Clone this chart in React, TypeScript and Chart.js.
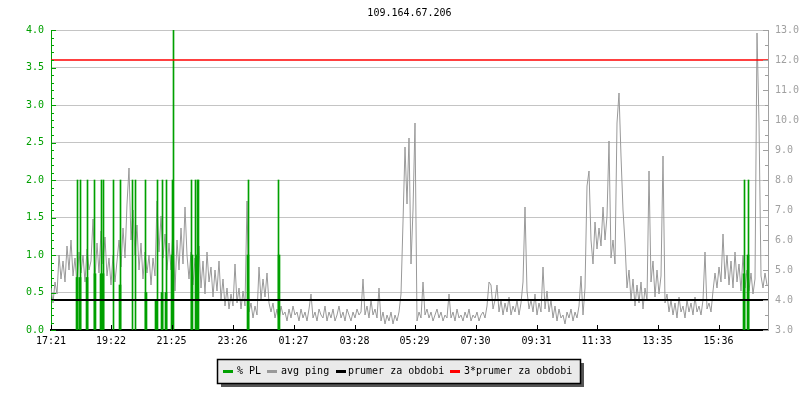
import React, { useEffect, useRef } from 'react';
import { Chart, registerables } from 'chart.js';

Chart.register(...registerables);

const TITLE = '109.164.67.206';
const STEP_MIN = 4;
const X_MAX = 1434;

const tickMinutes = [0, 120, 241, 363, 485, 607, 727, 849, 971, 1091, 1213, 1335];
const tickLabels = ['17:21', '19:22', '21:25', '23:26', '01:27', '03:28', '05:29', '07:30', '09:31', '11:33', '13:35', '15:36'];

// avg ping [ms], one sample every 4 minutes
const pingValues = [
  4.4, 3.9, 4.6, 4.2, 5.5, 4.7, 5.3, 4.6, 5.8, 5.0,
  6.0, 4.8, 5.4, 4.5, 5.6, 4.9, 5.5, 4.6, 5.7, 5.0,
  5.3, 6.7, 4.7, 5.9, 4.9, 6.3, 5.2, 6.1, 4.8, 5.4,
  4.5, 5.5, 4.6, 5.3, 6.0, 5.1, 6.4, 5.4, 7.2, 8.4,
  6.0, 7.0, 5.5, 6.5, 5.0, 5.9, 4.7, 5.6, 4.9, 5.5,
  4.5, 5.4, 4.8, 7.3, 5.6, 6.8, 5.4, 6.2, 5.0, 5.9,
  5.0, 6.4, 4.3, 6.0, 5.0, 6.4, 5.2, 7.1, 5.5, 4.7,
  5.6, 4.5, 5.4, 4.8, 5.8, 4.4, 5.3, 4.2, 5.6, 4.6,
  5.1, 4.1, 5.0, 4.3, 5.3, 4.0, 4.7, 3.8, 4.4, 3.7,
  4.2, 3.8, 5.2, 3.9, 4.4, 3.7, 4.3, 3.8, 7.3, 3.6,
  3.9, 3.4, 3.8, 3.5, 5.1, 4.0, 4.7, 4.1, 4.9, 3.9,
  3.6, 3.9, 3.4, 3.7, 3.3, 3.8, 3.5, 3.6, 3.3, 3.7,
  3.4, 3.8, 3.5, 3.6, 3.3, 3.7, 3.4, 3.6, 3.3, 3.7,
  4.2, 3.4, 3.6, 3.3, 3.7, 3.5, 3.4, 3.8, 3.3, 3.6,
  3.4, 3.7, 3.3, 3.5, 3.8, 3.4, 3.6, 3.3, 3.7, 3.5,
  3.3, 3.6, 3.4, 3.7, 3.5, 3.6, 4.7, 3.5, 3.8, 3.4,
  4.0, 3.5, 3.7, 3.4, 4.4, 3.3, 3.6, 3.2, 3.5, 3.3,
  3.6, 3.2, 3.5, 3.3, 3.6, 4.2, 6.6, 9.1, 7.2, 9.4,
  5.2, 7.0, 9.9, 3.3, 3.6, 3.4, 4.6, 3.5, 3.7, 3.4,
  3.6, 3.3, 3.5, 3.7, 3.4, 3.6, 3.3, 3.5, 3.4, 4.2,
  3.4, 3.6, 3.3, 3.7, 3.4, 3.5, 3.3, 3.6, 3.4, 3.7,
  3.3, 3.5, 3.4, 3.6, 3.3, 3.5, 3.6, 3.4, 3.8, 4.6,
  4.5, 3.7, 4.0, 4.5, 3.6, 4.0, 3.5, 3.9, 3.6, 4.1,
  3.5, 3.8, 3.6, 4.0, 3.5, 3.9, 4.6, 7.1, 4.3, 3.7,
  4.0, 3.6, 4.2, 3.5, 3.9, 3.6, 5.1, 3.7, 4.3, 3.6,
  4.0, 3.4, 3.8, 3.3, 3.7, 3.4, 3.5, 3.2, 3.6, 3.4,
  3.7, 3.3, 3.6, 3.4, 3.8, 4.8, 3.5, 4.4, 7.8, 8.3,
  6.0, 5.2, 6.6, 5.7, 6.4, 5.8, 7.1, 6.0, 6.8, 9.3,
  5.4, 6.0, 5.2, 9.9, 10.9, 8.8, 7.0, 5.9, 4.4, 5.0,
  4.0, 4.7, 3.8, 4.5, 3.9, 4.6, 3.7, 4.4, 4.0, 8.3,
  4.6, 5.3, 4.1, 5.0, 4.2, 4.8, 8.8, 3.9, 4.2, 3.6,
  4.0, 3.5, 3.9, 3.4, 4.1, 3.6, 3.8, 3.4, 4.0, 3.6,
  3.9, 3.5, 4.1, 3.6, 3.8, 3.5, 4.0, 5.6, 3.7, 3.9,
  3.6, 4.3, 4.9, 4.4, 5.1, 4.6, 6.2, 4.7, 5.5, 4.5,
  5.3, 4.4, 5.6, 4.6, 5.2, 4.3, 5.5, 4.4, 5.0, 4.3,
  4.9, 4.2, 4.7, 12.9, 9.9, 4.8, 4.4, 4.9, 4.5,
];

// % packet loss spikes (minute offset, value)
const plMinutes = [53, 59, 73, 87, 101, 105, 125, 139, 163, 169, 189, 213, 223, 231, 243, 245, 281, 289, 293, 295, 395, 455, 1387, 1395];
const plValues = [2, 2, 2, 2, 2, 2, 2, 2, 2, 2, 2, 2, 2, 2, 2, 4, 2, 2, 2, 2, 2, 2, 2, 2];
// neighbouring partial-loss samples
const plPartMinutes = [52, 58, 72, 88, 100, 104, 138, 190, 210, 222, 230, 242, 282, 292, 394, 456, 1386, 1394];
const plPartValues = [0.7, 0.7, 0.7, 0.75, 0.75, 0.75, 0.6, 0.5, 0.4, 0.5, 0.5, 1.0, 1.0, 1.0, 1.0, 1.0, 0.75, 1.0];

const avgPing = 4.0;
const tripleAvgPing = 12.0;

const legendLabels = ['% PL', 'avg ping', 'prumer za obdobi', '3*prumer za obdobi'];

const GREEN = '#00a000';
const GRAY = '#999999';
const AXIS_GRAY = '#a0a0a0';
const RED = '#ff0000';
const FONT = 'DejaVu Sans Mono';

const legendColors = [GREEN, GRAY, '#000000', RED];

const decorPlugin = {
  id: 'decor',
  afterDraw(chart: any) {
    const { ctx, chartArea: a, scales } = chart;
    const y = scales.y;
    const y2 = scales.y2;
    const x = scales.x;
    ctx.save();
    ctx.lineWidth = 1;
    ctx.strokeStyle = GREEN;
    for (let k = 0; k <= 40; k++) {
      const py = Math.round(y.getPixelForValue(k / 10)) + 0.5;
      const len = k % 5 === 0 ? 5 : 3;
      ctx.beginPath();
      ctx.moveTo(a.left, py);
      ctx.lineTo(a.left + len, py);
      ctx.stroke();
    }
    ctx.strokeStyle = AXIS_GRAY;
    for (let k = 0; k <= 20; k++) {
      const py = Math.round(y2.getPixelForValue(3 + k / 2)) + 0.5;
      const len = k % 2 === 0 ? 5 : 3;
      ctx.beginPath();
      ctx.moveTo(a.right, py);
      ctx.lineTo(a.right - len, py);
      ctx.stroke();
    }
    ctx.strokeStyle = '#000';
    tickMinutes.forEach((m) => {
      const px = Math.round(x.getPixelForValue(m)) + 0.5;
      ctx.beginPath();
      ctx.moveTo(px, a.bottom);
      ctx.lineTo(px, a.bottom - 5);
      ctx.stroke();
    });
    ctx.fillStyle = '#000';
    ctx.font = `10px "${FONT}"`;
    ctx.textAlign = 'center';
    ctx.textBaseline = 'middle';
    ctx.fillText(TITLE, (a.left + a.right) / 2, 13);
    const bx = 217, by = 359, bw = 363, bh = 24;
    ctx.fillStyle = '#555555';
    ctx.fillRect(bx + 4, by + 4, bw, bh);
    ctx.fillStyle = '#eaeaea';
    ctx.fillRect(bx, by, bw, bh);
    ctx.strokeStyle = '#000';
    ctx.lineWidth = 1.5;
    ctx.strokeRect(bx + 0.5, by + 0.5, bw, bh);
    const swX = [223, 267, 336, 450];
    const txX = [237, 281, 348, 464];
    ctx.textAlign = 'left';
    legendLabels.forEach((lab, i) => {
      ctx.fillStyle = legendColors[i];
      ctx.fillRect(swX[i], 370, 10, 3);
      ctx.fillStyle = '#000';
      ctx.fillText(lab, txX[i], 371);
    });
    ctx.restore();
  },
};

export default function App() {
  const ref = useRef<HTMLCanvasElement | null>(null);
  useEffect(() => {
    if (!ref.current) return;
    Chart.defaults.font.family = FONT;
    Chart.defaults.font.size = 10;
    const chart = new Chart(ref.current, {
      type: 'line',
      data: {
        datasets: [
          {
            type: 'line',
            label: 'avg ping',
            data: pingValues.map((v, i) => ({ x: i * STEP_MIN, y: v })),
            yAxisID: 'y2',
            borderColor: GRAY,
            borderWidth: 1,
            pointRadius: 0,
            tension: 0,
            order: 4,
          },
          {
            type: 'bar',
            label: '% PL',
            data: plMinutes.map((m, i) => ({ x: m, y: plValues[i] })),
            yAxisID: 'y',
            backgroundColor: GREEN,
            barThickness: 1,
            grouped: false,
            order: 3,
          },
          {
            type: 'bar',
            label: '% PL part',
            data: plPartMinutes.map((m, i) => ({ x: m, y: plPartValues[i] })),
            yAxisID: 'y',
            backgroundColor: GREEN,
            barThickness: 2,
            grouped: false,
            order: 3,
          },
          {
            type: 'line',
            label: 'prumer za obdobi',
            data: [{ x: 0, y: avgPing }, { x: X_MAX, y: avgPing }],
            yAxisID: 'y2',
            borderColor: '#000000',
            borderWidth: 2,
            pointRadius: 0,
            order: 2,
          },
          {
            type: 'line',
            label: '3*prumer za obdobi',
            data: [{ x: 0, y: tripleAvgPing }, { x: X_MAX, y: tripleAvgPing }],
            yAxisID: 'y2',
            borderColor: RED,
            borderWidth: 1.5,
            pointRadius: 0,
            order: 1,
          },
        ],
      } as any,
      options: {
        animation: false,
        responsive: false,
        devicePixelRatio: 1,
        layout: { padding: { top: 30, left: 0, right: 0, bottom: 0 } },
        plugins: { legend: { display: false }, title: { display: false }, tooltip: { enabled: false } },
        scales: {
          x: {
            type: 'linear',
            min: 0,
            max: X_MAX,
            offset: false,
            afterFit: (s: any) => { s.height = 70; },
            afterBuildTicks: (s: any) => { s.ticks = tickMinutes.map((v) => ({ value: v })); },
            ticks: {
              autoSkip: false,
              maxRotation: 0,
              padding: 5,
              color: '#000',
              font: { family: FONT, size: 10 },
              callback: (_v: any, i: number) => tickLabels[i],
            },
            grid: { display: true, drawOnChartArea: false, drawTicks: false, offset: false },
            border: { color: '#000', width: 2 },
          },
          y: {
            type: 'linear',
            position: 'left',
            min: 0,
            max: 4,
            afterFit: (s: any) => { s.width = 51; },
            ticks: {
              stepSize: 0.5,
              padding: 7,
              color: GREEN,
              font: { family: FONT, size: 10 },
              callback: (v: any) => Number(v).toFixed(1),
            },
            grid: { color: '#c4c4c4', drawTicks: false, lineWidth: 1 },
            border: { color: GREEN, width: 1 },
          },
          y2: {
            type: 'linear',
            position: 'right',
            min: 3,
            max: 13,
            afterFit: (s: any) => { s.width = 32; },
            ticks: {
              stepSize: 1,
              padding: 7,
              color: AXIS_GRAY,
              font: { family: FONT, size: 10 },
              callback: (v: any) => Number(v).toFixed(1),
            },
            grid: { drawOnChartArea: false, drawTicks: false },
            border: { color: AXIS_GRAY, width: 1 },
          },
        },
      } as any,
      plugins: [decorPlugin],
    });
    return () => chart.destroy();
  }, []);
  return (
    <div style={{ position: 'absolute', left: 0, top: 0, width: 800, height: 400, background: '#fff' }}>
      <canvas ref={ref} width={800} height={400} style={{ display: 'block' }} />
    </div>
  );
}
